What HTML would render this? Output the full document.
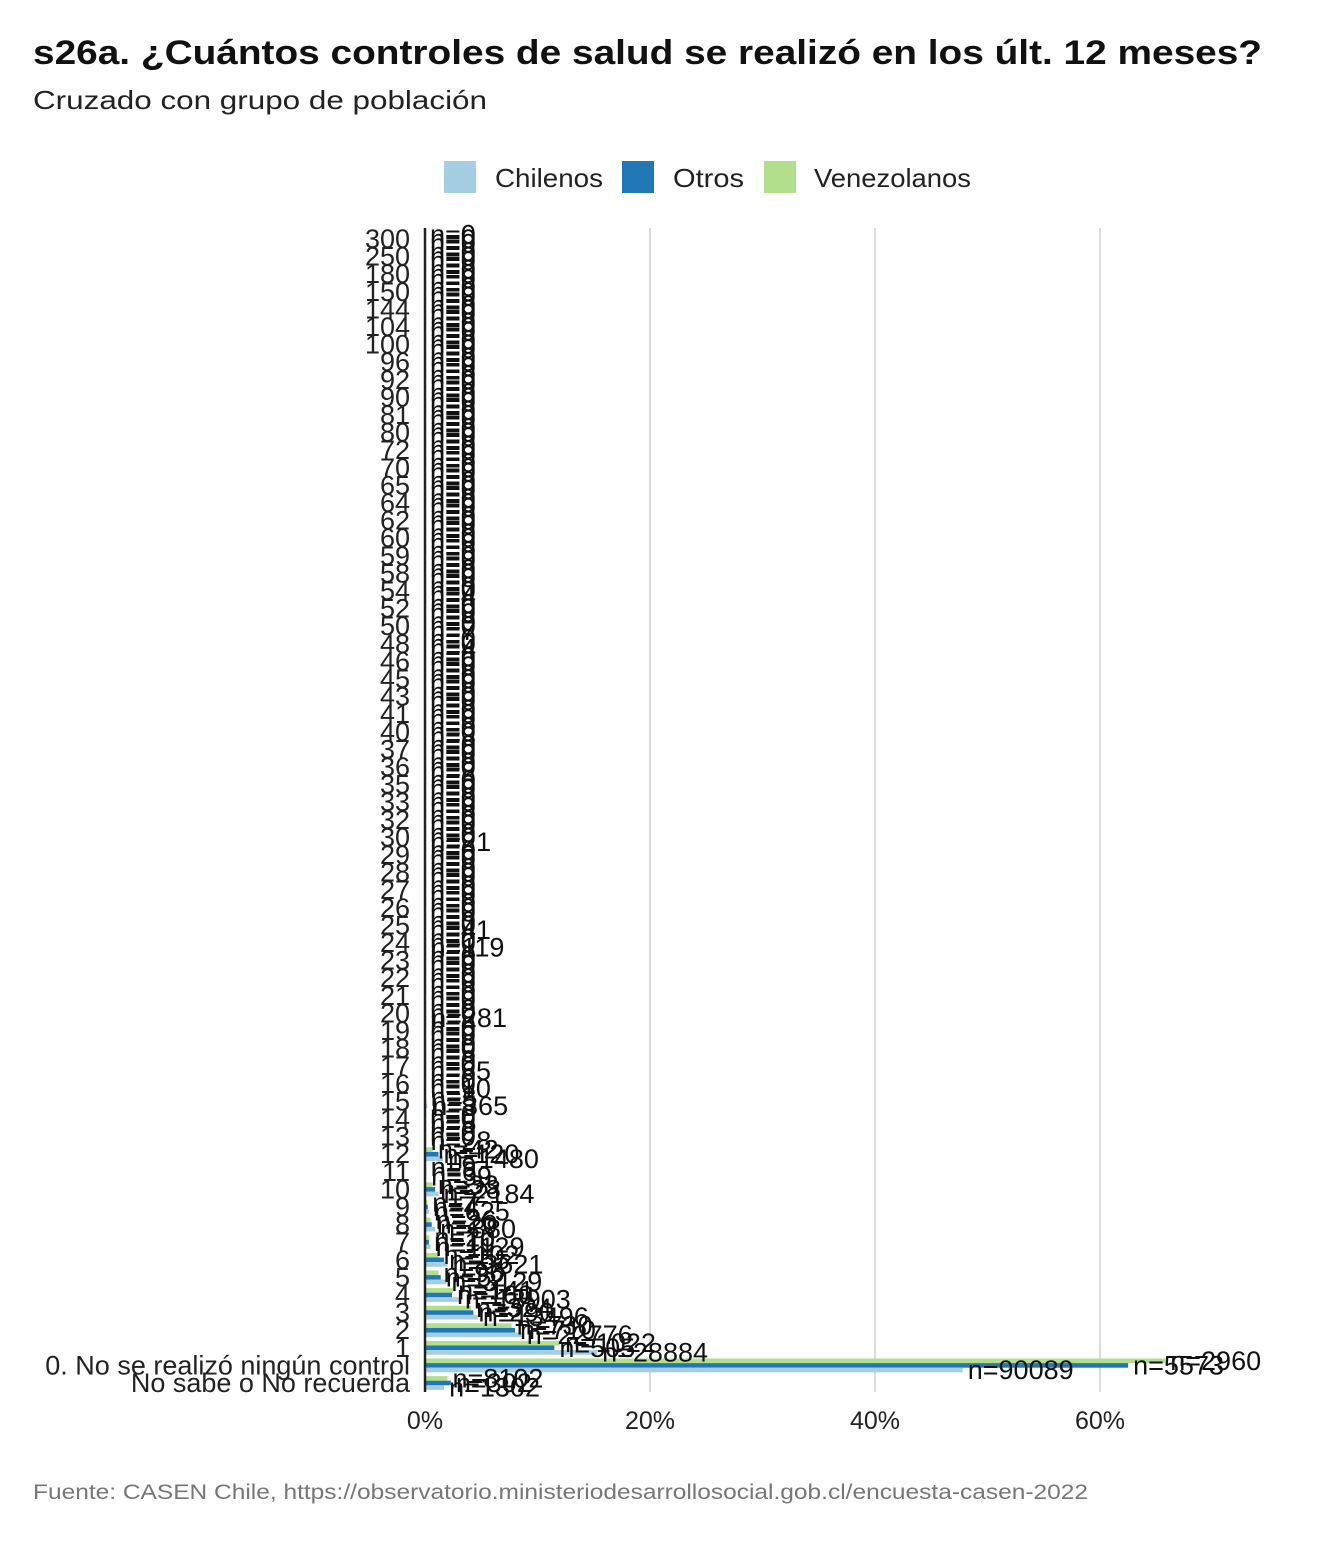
<!DOCTYPE html>
<html><head><meta charset="utf-8">
<style>
body{margin:0;background:#fff;width:1344px;height:1536px;overflow:hidden;font-family:"Liberation Sans",sans-serif;}
</style></head>
<body>
<svg id="chart" width="1344" height="1536" xmlns="http://www.w3.org/2000/svg">
<text x="33" y="64" font-size="34" font-weight="bold" fill="#111" textLength="1229" lengthAdjust="spacingAndGlyphs">s26a. ¿Cuántos controles de salud se realizó en los últ. 12 meses?</text>
<text x="33" y="109" font-size="26" fill="#222" textLength="454" lengthAdjust="spacingAndGlyphs">Cruzado con grupo de población</text>
<g>
<rect x="444" y="161" width="32" height="32" fill="#a6cee3"/>
<text x="495" y="187" font-size="26" fill="#222" textLength="108" lengthAdjust="spacingAndGlyphs">Chilenos</text>
<rect x="622" y="161" width="32" height="32" fill="#1f78b4"/>
<text x="673" y="187" font-size="26" fill="#222" textLength="71" lengthAdjust="spacingAndGlyphs">Otros</text>
<rect x="764" y="161" width="32" height="32" fill="#b2df8a"/>
<text x="814" y="187" font-size="26" fill="#222" textLength="157" lengthAdjust="spacingAndGlyphs">Venezolanos</text>
</g>
<g id="grid"></g>
<g id="bars"></g>
<g id="labels"></g>
<g id="cats"></g>
<g id="ticks"></g>
<line x1="425" y1="228" x2="425" y2="1392" stroke="#222" stroke-width="2.5"/>
<text x="33" y="1499" font-size="21" fill="#777" textLength="1055" lengthAdjust="spacingAndGlyphs">Fuente: CASEN Chile, https://observatorio.ministeriodesarrollosocial.gob.cl/encuesta-casen-2022</text>
</svg>
<script>
const categories = ["300","250","180","150","144","104","100","96","92","90","81","80","72","70","65","64","62","60","59","58","54","52","50","48","46","45","43","41","40","37","36","35","33","32","30","29","28","27","26","25","24","23","22","21","20","19","18","17","16","15","14","13","12","11","10","9","8","7","6","5","4","3","2","1","0. No se realizó ningún control","No sabe o No recuerda"];
const venezolanos = [0,0,0,0,0,0,0,0,0,0,0,0,0,0,0,0,0,0,0,0,0,0,0,0,0,0,0,0,0,0,0,0,0,0,0,0,0,0,0,0,0,0,0,0,0,0,0,0,0,0.05,0,0,0.7,0.05,0.7,0.2,0.5,0.4,1.2,1.2,2.5,4.1,7.7,12,65.8,2];
const otros = [0,0,0,0,0,0,0,0,0,0,0,0,0,0,0,0,0,0,0,0,0,0,0,0,0,0,0,0,0,0,0,0,0,0,0,0,0,0,0,0,0,0,0,0,0,0,0,0,0,0.1,0,0,1.2,0.1,0.9,0.25,0.6,0.35,1.7,1.4,2.4,4.3,8,11.5,62.5,2.3];
const chilenos = [0,0,0,0,0,0,0,0,0,0,0,0,0,0,0,0,0,0,0,0,0.01,0,0.02,0.02,0,0,0,0,0.02,0,0.02,0,0,0,0.03,0,0,0,0,0.01,0.05,0,0,0,0.1,0,0.01,0.02,0.01,0.2,0.05,0.05,1.6,0.1,1.2,0.35,0.9,0.5,2,1.9,3.1,4.7,8.6,15.3,47.8,1.7];
const nVen = [0,0,0,0,0,0,0,0,0,0,0,0,0,0,0,0,0,0,0,0,0,0,0,0,0,0,0,0,0,0,0,0,0,0,0,0,0,0,0,0,0,0,0,0,0,0,0,0,0,3,0,0,42,9,33,7,26,20,102,96,141,324,730,1022,2960,8102];
const nOtr = [0,0,0,0,0,0,0,0,0,0,0,0,0,0,0,0,0,0,0,0,0,0,0,0,0,0,0,0,0,0,0,0,0,0,0,0,0,0,0,0,0,0,0,0,0,0,0,0,0,5,0,0,120,6,28,4,20,10,55,52,160,290,710,505,5573,302];
const nChi = [0,0,0,0,0,0,0,0,0,0,0,0,0,0,0,0,0,0,0,0,4,0,7,4,0,0,0,0,8,0,2,0,0,0,21,0,0,0,0,41,119,0,0,0,281,0,5,65,10,365,5,28,1480,39,2184,625,880,1129,3621,3129,13903,13496,22776,28884,90089,1302];
const X0 = 425, PX = 11.25, Y0 = 239, STEP = 17.6, BH = 4.6;
const xs = v => X0 + v * PX;
const yc = i => Y0 + i * STEP;
const ns = "http://www.w3.org/2000/svg";
const grid = document.getElementById('grid'), bars = document.getElementById('bars'),
      labels = document.getElementById('labels'), cats = document.getElementById('cats'),
      ticks = document.getElementById('ticks');
const tickVals = [0,20,40,60];
const tickLabels = ["0%","20%","40%","60%"];
tickVals.forEach((t,k)=>{
  if(t>0){
    const l=document.createElementNS(ns,'line');
    l.setAttribute('x1',xs(t));l.setAttribute('x2',xs(t));l.setAttribute('y1',228);l.setAttribute('y2',1392);
    l.setAttribute('stroke','#d0d0d0');l.setAttribute('stroke-width','1.5');
    
    
    grid.appendChild(l);
  }
  const tx=document.createElementNS(ns,'text');
  tx.setAttribute('x',xs(t));tx.setAttribute('y',1429);tx.setAttribute('text-anchor','middle');
  tx.setAttribute('font-size','25');tx.setAttribute('fill','#222');tx.textContent=tickLabels[k];
  
  
  ticks.appendChild(tx);
});
const series=[{v:venezolanos,n:nVen,c:'#b2df8a',off:-BH,name:'venezolanos'},{v:otros,n:nOtr,c:'#1f78b4',off:0,name:'otros'},{v:chilenos,n:nChi,c:'#a6cee3',off:BH,name:'chilenos'}];
categories.forEach((cat,i)=>{
  const t=document.createElementNS(ns,'text');
  t.setAttribute('x',410);t.setAttribute('y',yc(i)+9);t.setAttribute('text-anchor','end');
  t.setAttribute('font-size','27');t.setAttribute('fill','#222');t.textContent=cat;
  
  
  cats.appendChild(t);
  series.forEach(s=>{
    const y=yc(i)+s.off;
    const r=document.createElementNS(ns,'rect');
    r.setAttribute('x',X0);r.setAttribute('y',y-BH/2);r.setAttribute('width',Math.max(0,xs(s.v[i])-X0));
    r.setAttribute('height',BH);r.setAttribute('fill',s.c);
    
    
    bars.appendChild(r);
    const lt=document.createElementNS(ns,'text');
    lt.setAttribute('x',xs(s.v[i])+5);lt.setAttribute('y',y+9);
    lt.setAttribute('font-size','27');lt.setAttribute('fill','#111');lt.textContent='n='+s.n[i];
    
    
    labels.appendChild(lt);
  });
});
</script>
</body></html>
